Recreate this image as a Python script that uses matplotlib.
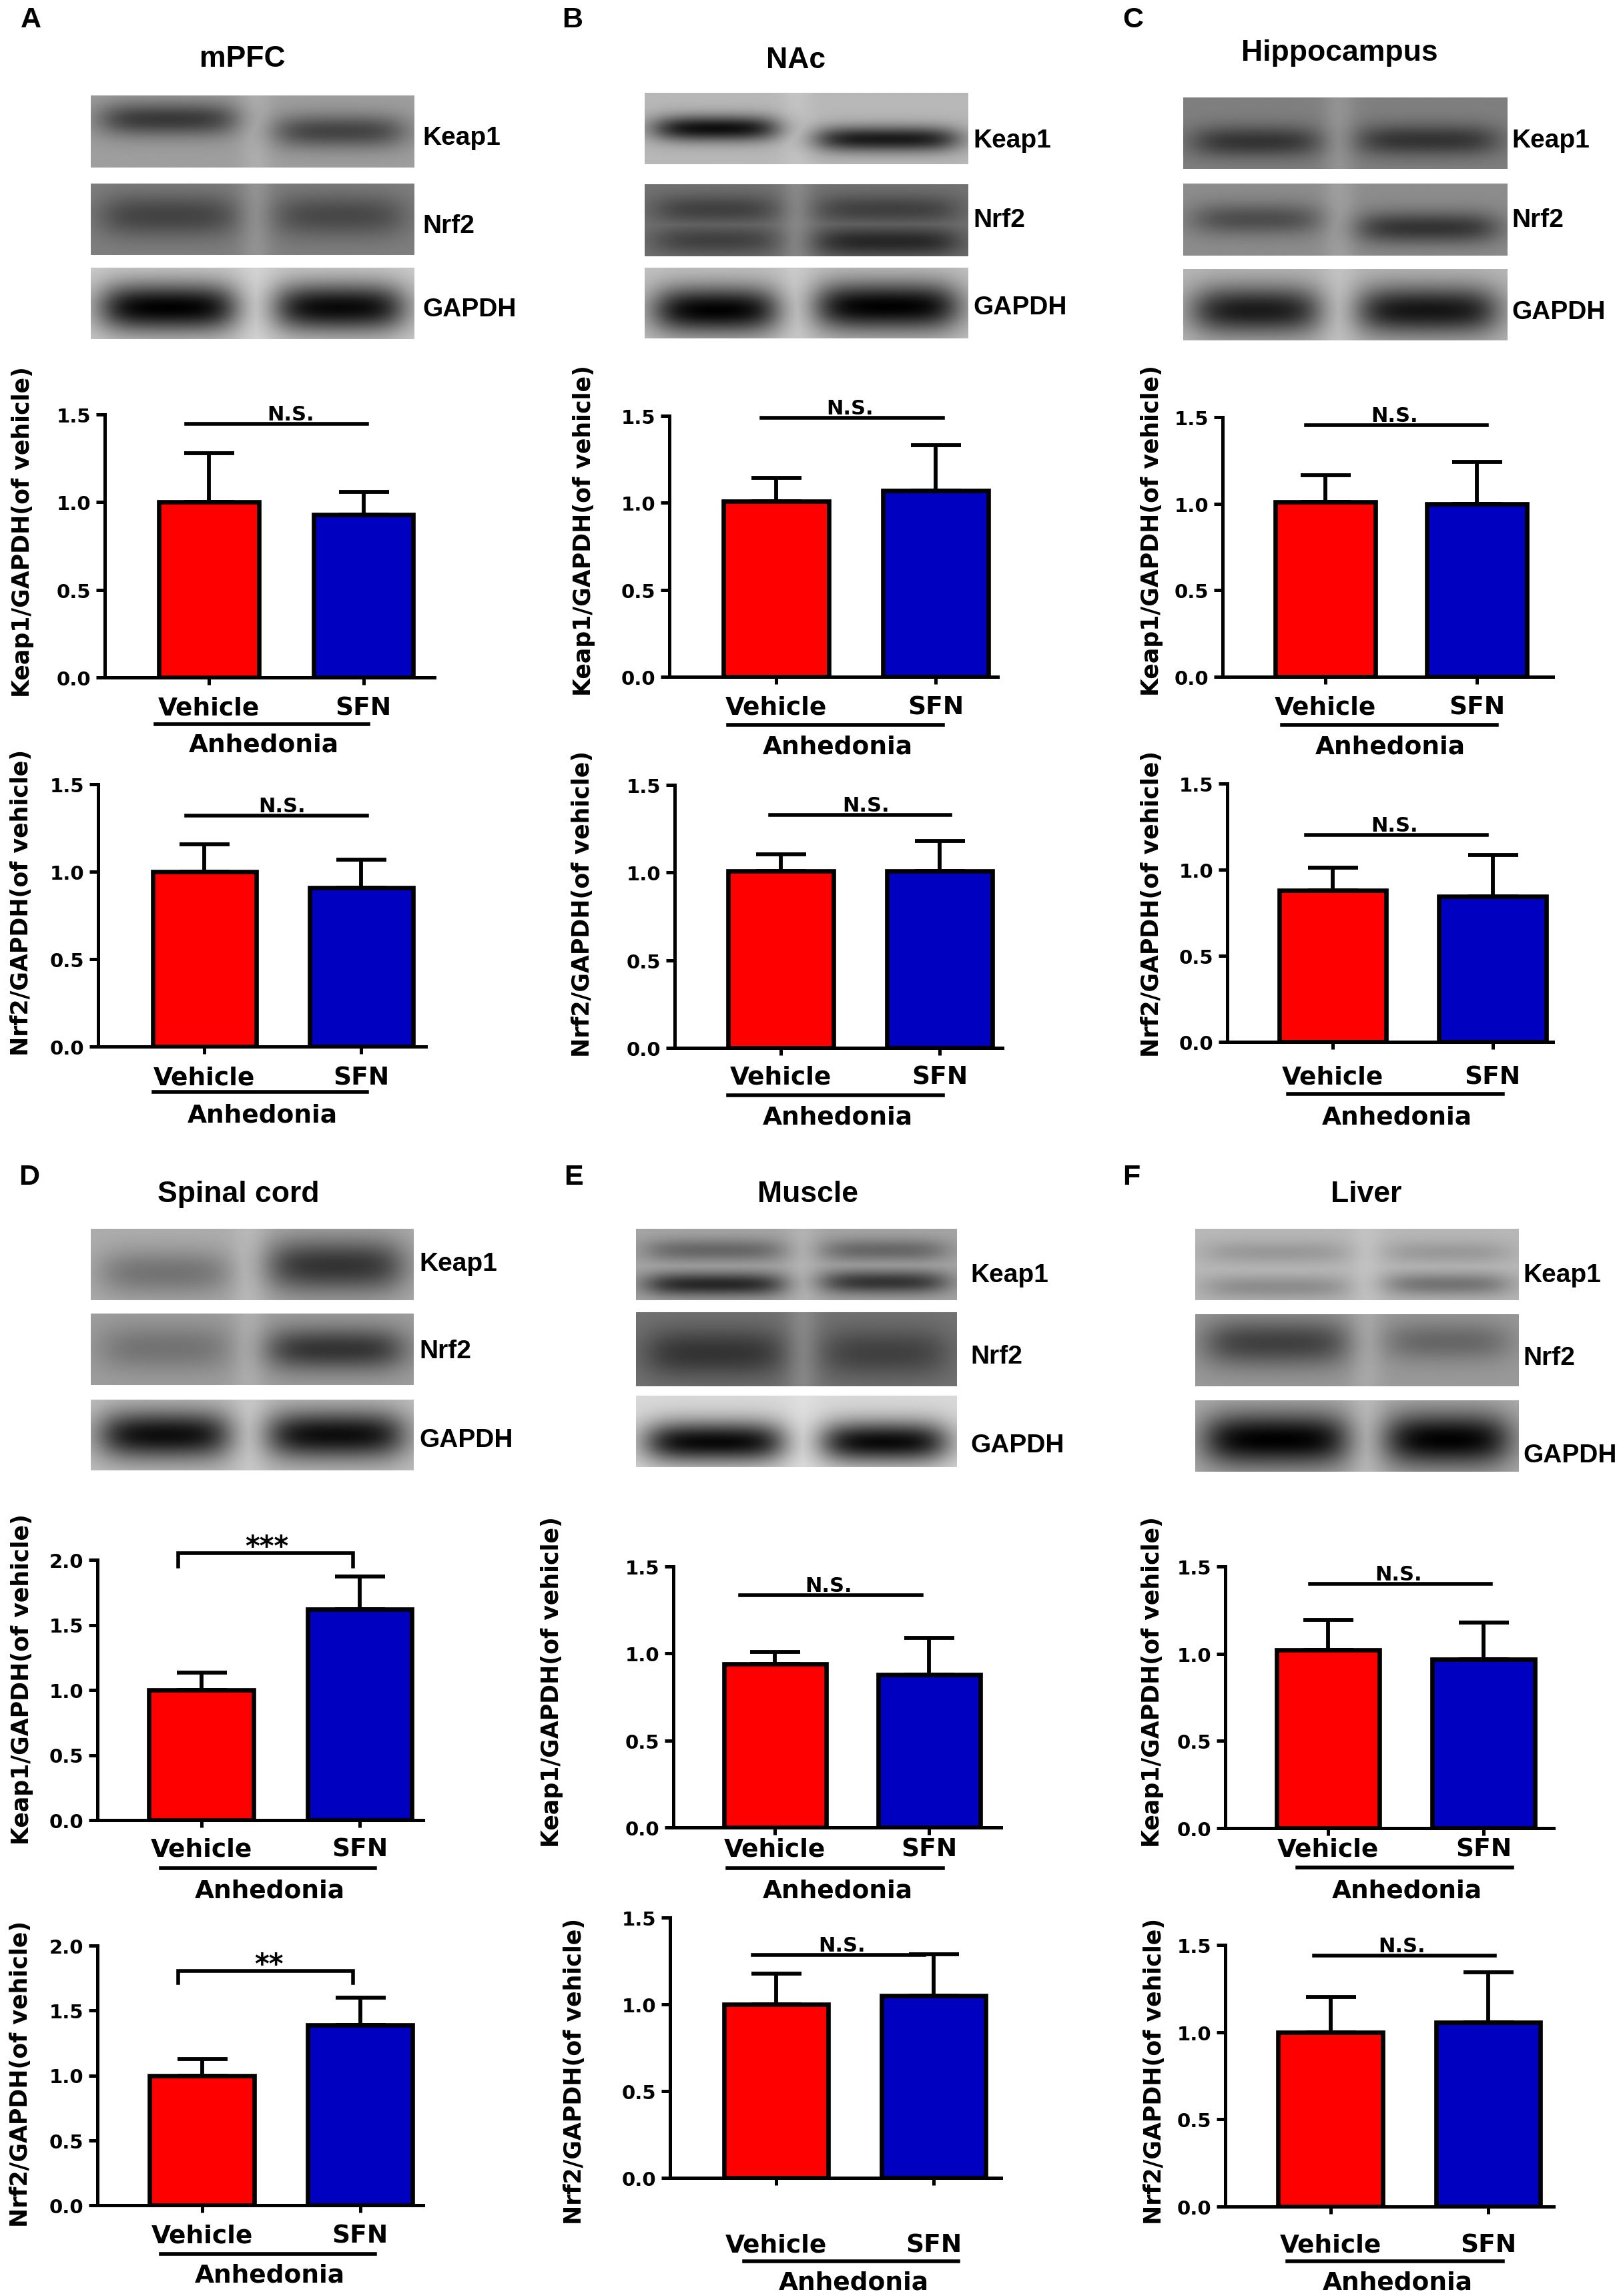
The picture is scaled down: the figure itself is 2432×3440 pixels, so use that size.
import numpy as np
import matplotlib
matplotlib.use("Agg")
import matplotlib.pyplot as plt
from matplotlib.transforms import Affine2D, blended_transform_factory
from matplotlib.lines import Line2D

# ------------------------------------------------------------------ data
panel_letters = ["A", "B", "C", "D", "E", "F"]
tissues = ["mPFC", "NAc", "Hippocampus", "Spinal cord", "Muscle", "Liver"]
groups = ["Vehicle", "SFN"]
group_label = "Anhedonia"
blot_proteins = ["Keap1", "Nrf2", "GAPDH"]
ratio_labels = ["Keap1/GAPDH(of vehicle)", "Nrf2/GAPDH(of vehicle)"]

keap1_vehicle_mean = [1.00, 1.01, 1.01, 1.00, 0.94, 1.02]
keap1_vehicle_sem = [0.28, 0.135, 0.155, 0.133, 0.068, 0.173]
keap1_sfn_mean = [0.93, 1.07, 1.00, 1.62, 0.88, 0.97]
keap1_sfn_sem = [0.13, 0.26, 0.24, 0.25, 0.21, 0.21]

nrf2_vehicle_mean = [1.00, 1.01, 0.88, 1.00, 1.00, 1.00]
nrf2_vehicle_sem = [0.155, 0.093, 0.133, 0.126, 0.176, 0.202]
nrf2_sfn_mean = [0.91, 1.01, 0.845, 1.39, 1.05, 1.055]
nrf2_sfn_sem = [0.158, 0.169, 0.239, 0.208, 0.239, 0.29]

keap1_sig = ["N.S.", "N.S.", "N.S.", "***", "N.S.", "N.S."]
nrf2_sig = ["N.S.", "N.S.", "N.S.", "**", "N.S.", "N.S."]
keap1_ymax = [1.5, 1.5, 1.5, 2.0, 1.5, 1.5]
nrf2_ymax = [1.5, 1.5, 1.5, 2.0, 1.5, 1.5]

# ------------------------------------------------------------------ layout (pixels)
W, H, DPI = 2432, 3441, 100
BAR_COLORS = ["#FF0000", "#0000C0"]
CHART_FONT = "DejaVu Sans"
LABEL_FONT = ["Liberation Sans", "DejaVu Sans"]

keap1_layout = [
    dict(box=(157, 622, 651, 1016), veh=(235, 391), sfn=(467, 622), ylab=(34, 797),
         sig_x=(279, 550), sig_tx=436, sig_y=1.448, ul=(233, 552, 1086), anh=(395, 1114), xoff=42),
    dict(box=(1003, 624, 1495, 1015), veh=(1081, 1245), sfn=(1320, 1484), ylab=(875, 795),
         sig_x=(1141, 1413), sig_tx=1274, sig_y=1.49, ul=(1091, 1413, 1087), anh=(1255, 1117), xoff=42),
    dict(box=(1832, 626, 2327, 1015), veh=(1908, 2064), sfn=(2135, 2291), ylab=(1726, 795),
         sig_x=(1957, 2228), sig_tx=2090, sig_y=1.453, ul=(1921, 2243, 1087), anh=(2083, 1117), xoff=42),
    dict(box=(146, 2338, 634, 2728), veh=(220, 383), sfn=(458, 620), ylab=(33, 2516),
         sig_x=(267, 529), sig_tx=400, sig_y=2.05, leg=1.95, ul=(241, 562, 2800), anh=(404, 2831), xoff=40),
    dict(box=(1009, 2348, 1500, 2739), veh=(1081, 1241), sfn=(1313, 1471), ylab=(827, 2520),
         sig_x=(1109, 1381), sig_tx=1242, sig_y=1.335, ul=(1090, 1413, 2800), anh=(1255, 2831), xoff=29),
    dict(box=(1836, 2348, 2328, 2740), veh=(1910, 2070), sfn=(2143, 2303), ylab=(1727, 2520),
         sig_x=(1963, 2234), sig_tx=2096, sig_y=1.40, ul=(1944, 2266, 2799), anh=(2108, 2831), xoff=28),
]
nrf2_layout = [
    dict(box=(147, 1176, 638, 1569), veh=(226, 386), sfn=(460, 622), ylab=(32, 1352),
         sig_x=(279, 550), sig_tx=423, sig_y=1.32, ul=(230, 550, 1637), anh=(393, 1669), xoff=43),
    dict(box=(1011, 1177, 1502, 1571), veh=(1088, 1252), sfn=(1326, 1490), ylab=(873, 1354),
         sig_x=(1154, 1424), sig_tx=1298, sig_y=1.328, ul=(1091, 1413, 1642), anh=(1255, 1672), xoff=40),
    dict(box=(1839, 1175, 2327, 1562), veh=(1914, 2080), sfn=(2153, 2320), ylab=(1726, 1354),
         sig_x=(1957, 2228), sig_tx=2090, sig_y=1.203, ul=(1930, 2252, 1640), anh=(2093, 1672), xoff=49),
    dict(box=(146, 2916, 634, 3305), veh=(221, 384), sfn=(458, 621), ylab=(31, 3107),
         sig_x=(267, 529), sig_tx=403, sig_y=1.807, leg=1.71, ul=(241, 562, 3378), anh=(404, 3407), xoff=42),
    dict(box=(1004, 2874, 1500, 3264), veh=(1082, 1244), sfn=(1318, 1480), ylab=(861, 3103),
         sig_x=(1128, 1385), sig_tx=1262, sig_y=1.283, ul=(1115, 1436, 3389), anh=(1279, 3418), xoff=97),
    dict(box=(1836, 2915, 2328, 3307), veh=(1912, 2075), sfn=(2149, 2311), ylab=(1730, 3103),
         sig_x=(1969, 2240), sig_tx=2101, sig_y=1.44, ul=(1929, 2252, 3389), anh=(2094, 3418), xoff=54),
]

letter_pos = [(31, 30), (842, 30), (1682, 30), (28, 1764), (845, 1764), (1682, 1764)]
title_pos = [(363, 88), (1193, 90), (2007, 80), (357, 1790), (1210, 1790), (2047, 1790)]
blot_x = [(136, 621), (966, 1450), (1773, 2259), (136, 620), (953, 1434), (1791, 2275)]
blot_y = [[(144, 252), (276, 383), (402, 509)],
          [(140, 247), (277, 385), (402, 508)],
          [(147, 254), (276, 384), (404, 511)],
          [(1842, 1949), (1969, 2076), (2098, 2204)],
          [(1842, 1949), (1967, 2078), (2092, 2199)],
          [(1842, 1949), (1970, 2078), (2099, 2206)]]
blot_label_x = [633, 1458, 2265, 628, 1454, 2282]
blot_label_y = [[207, 339, 464], [211, 330, 461], [211, 330, 468],
                [1894, 2025, 2158], [1911, 2033, 2166], [1911, 2035, 2181]]
blot_sep = [0.51, 0.47, 0.48, 0.49, 0.52, 0.53]
# film appearance: (background grey, [(lane, band centre, band sigma, band grey)])
blot_look = [
    [(0.62, [("L", 0.33, 0.17, 0.22), ("R", 0.50, 0.17, 0.26)]),
     (0.50, [("L", 0.45, 0.22, 0.26), ("R", 0.45, 0.22, 0.28)]),
     (0.80, [("L", 0.56, 0.25, 0.0), ("R", 0.56, 0.25, 0.03)])],
    [(0.72, [("L", 0.50, 0.13, 0.05), ("R", 0.65, 0.13, 0.10)]),
     (0.45, [("L", 0.35, 0.15, 0.25), ("L", 0.78, 0.15, 0.25), ("R", 0.35, 0.15, 0.25), ("R", 0.80, 0.15, 0.15)]),
     (0.76, [("L", 0.60, 0.24, 0.0), ("R", 0.55, 0.25, 0.0)])],
    [(0.50, [("L", 0.62, 0.16, 0.20), ("R", 0.60, 0.16, 0.20)]),
     (0.55, [("L", 0.50, 0.16, 0.30), ("R", 0.62, 0.16, 0.20)]),
     (0.72, [("L", 0.58, 0.25, 0.10), ("R", 0.58, 0.25, 0.08)])],
    [(0.68, [("L", 0.62, 0.24, 0.45), ("R", 0.52, 0.28, 0.20)]),
     (0.62, [("L", 0.48, 0.24, 0.45), ("R", 0.50, 0.22, 0.20)]),
     (0.75, [("L", 0.50, 0.25, 0.05), ("R", 0.50, 0.25, 0.05)])],
    [(0.65, [("L", 0.30, 0.12, 0.40), ("L", 0.78, 0.12, 0.15), ("R", 0.30, 0.12, 0.40), ("R", 0.75, 0.12, 0.20)]),
     (0.45, [("L", 0.55, 0.24, 0.20), ("R", 0.55, 0.24, 0.25)]),
     (0.85, [("L", 0.65, 0.21, 0.03), ("R", 0.65, 0.21, 0.03)])],
    [(0.72, [("L", 0.33, 0.12, 0.60), ("L", 0.82, 0.12, 0.55), ("R", 0.33, 0.12, 0.60), ("R", 0.78, 0.12, 0.45)]),
     (0.60, [("L", 0.40, 0.24, 0.25), ("R", 0.38, 0.20, 0.40)]),
     (0.68, [("L", 0.55, 0.27, 0.0), ("R", 0.55, 0.27, 0.0)])],
]

EDGE_LW = 4.8
ERR_LW = 4.2
AX_LW = 3.6
SIG_LW = 4.0
CAP = 27

fig = plt.figure(figsize=(W / DPI, H / DPI), dpi=DPI)
fig.patch.set_facecolor("white")
PX = Affine2D().scale(1.0 / W, -1.0 / H).translate(0, 1) + fig.transFigure


def blot_image(bg, sep, bands, h=160, w=480):
    yy = np.linspace(0, 1, h)[:, None]
    xx = np.linspace(0, 1, w)[None, :]
    dark = np.zeros((h, w))
    lanes = {"L": (0.04, sep - 0.07), "R": (sep + 0.07, 0.96)}
    for lane, yc, sig, level in bands:
        x0, x1 = lanes[lane]
        gx = 1.0 / (1 + np.exp(-(xx - x0) / 0.035)) / (1 + np.exp((xx - x1) / 0.035))
        gy = np.exp(-0.5 * ((yy - yc) / sig) ** 2)
        dark = np.maximum(dark, (bg - level) * gx * gy)
    img = bg - dark
    gap = np.exp(-0.5 * ((xx - sep) / 0.035) ** 2)
    img = img + 0.15 * gap * (1 - img)
    return np.clip(img, 0, 1)


def draw_chart(L, means, sems, ymax, sig, ylabel):
    l, t, r, b = L["box"]
    ax = fig.add_axes([l / W, 1 - b / H, (r - l) / W, (b - t) / H])
    vc = (L["veh"][0] + L["veh"][1]) / 2
    sc = (L["sfn"][0] + L["sfn"][1]) / 2
    s = sc - vc
    bw = ((L["veh"][1] - L["veh"][0]) + (L["sfn"][1] - L["sfn"][0])) / 2
    bw = (bw - 6) / s
    x = np.arange(len(groups))
    ax.bar(x, means, width=bw, color=BAR_COLORS, edgecolor="black",
           linewidth=EDGE_LW, zorder=3)
    ax.errorbar(x, means, yerr=[np.zeros(len(means)), sems], fmt="none",
                ecolor="black", elinewidth=ERR_LW, capsize=CAP, capthick=ERR_LW, zorder=2)
    ax.set_xlim((l - vc) / s, (r - vc) / s)
    ax.set_ylim(0, ymax)
    for sp in ("top", "right"):
        ax.spines[sp].set_visible(False)
    for sp in ("left", "bottom"):
        ax.spines[sp].set_linewidth(AX_LW)
    yt = np.arange(0, ymax + 1e-9, 0.5)
    ax.set_yticks(yt)
    ax.set_yticklabels([f"{v:.1f}" for v in yt], fontsize=21,
                       fontfamily=CHART_FONT, fontweight="bold")
    ax.tick_params(axis="y", direction="out", length=9.5, width=AX_LW, pad=5.5)
    ax.set_xticks(x)
    ax.set_xticklabels(groups, fontsize=27, fontfamily=CHART_FONT, fontweight="bold")
    ax.tick_params(axis="x", direction="out", length=8, width=AX_LW,
                   pad=max(0.0, (L["xoff"] - 26)) * 0.72)

    bt = blended_transform_factory(PX, ax.transData)
    x0, x1 = L["sig_x"]
    y = L["sig_y"]
    if "leg" in L:
        ax.add_line(Line2D([x0, x0, x1, x1], [L["leg"], y, y, L["leg"]], transform=bt,
                           color="black", lw=SIG_LW, clip_on=False, solid_joinstyle="miter"))
        ax.annotate(sig, xy=(L["sig_tx"], y), xycoords=bt, xytext=(0, -3),
                    textcoords="offset pixels", ha="center", va="baseline",
                    fontsize=30, fontfamily=CHART_FONT, fontweight="bold", annotation_clip=False)
    else:
        ax.add_line(Line2D([x0, x1], [y, y], transform=bt, color="black",
                           lw=SIG_LW, clip_on=False))
        ax.annotate(sig, xy=(L["sig_tx"], y), xycoords=bt, xytext=(0, 6),
                    textcoords="offset pixels", ha="center", va="baseline",
                    fontsize=22, fontfamily=CHART_FONT, fontweight="bold", annotation_clip=False)

    ux0, ux1, uy = L["ul"]
    fig.add_artist(Line2D([ux0, ux1], [uy, uy], transform=PX, color="black", lw=SIG_LW))
    fig.text(L["anh"][0], L["anh"][1] + 3, group_label, transform=PX, ha="center", va="center",
             fontsize=27, fontfamily=CHART_FONT, fontweight="bold")
    fig.text(L["ylab"][0], L["ylab"][1], ylabel, transform=PX, rotation=90,
             ha="center", va="center", fontsize=25, fontfamily=CHART_FONT, fontweight="bold")
    return ax


for i in range(6):
    # panel letter and tissue title
    fig.text(letter_pos[i][0], letter_pos[i][1], panel_letters[i], transform=PX,
             ha="left", va="center", fontsize=31, fontfamily=LABEL_FONT, fontweight="bold")
    fig.text(title_pos[i][0], title_pos[i][1], tissues[i], transform=PX,
             ha="center", va="center", fontsize=32, fontfamily=LABEL_FONT, fontweight="bold")
    # western blot strips
    bx0, bx1 = blot_x[i]
    for j, prot in enumerate(blot_proteins):
        by0, by1 = blot_y[i][j]
        bax = fig.add_axes([bx0 / W, 1 - by1 / H, (bx1 - bx0) / W, (by1 - by0) / H])
        bg, bands = blot_look[i][j]
        bax.imshow(blot_image(bg, blot_sep[i], bands), cmap="gray", vmin=0, vmax=1,
                   aspect="auto", interpolation="bilinear")
        bax.set_axis_off()
        fig.text(blot_label_x[i], blot_label_y[i][j], prot, transform=PX,
                 ha="left", va="center", fontsize=28, fontfamily=LABEL_FONT, fontweight="bold")
    # quantification bar charts
    draw_chart(keap1_layout[i], [keap1_vehicle_mean[i], keap1_sfn_mean[i]],
               [keap1_vehicle_sem[i], keap1_sfn_sem[i]], keap1_ymax[i], keap1_sig[i], ratio_labels[0])
    draw_chart(nrf2_layout[i], [nrf2_vehicle_mean[i], nrf2_sfn_mean[i]],
               [nrf2_vehicle_sem[i], nrf2_sfn_sem[i]], nrf2_ymax[i], nrf2_sig[i], ratio_labels[1])

fig.savefig("out.png", dpi=DPI, facecolor="white")
